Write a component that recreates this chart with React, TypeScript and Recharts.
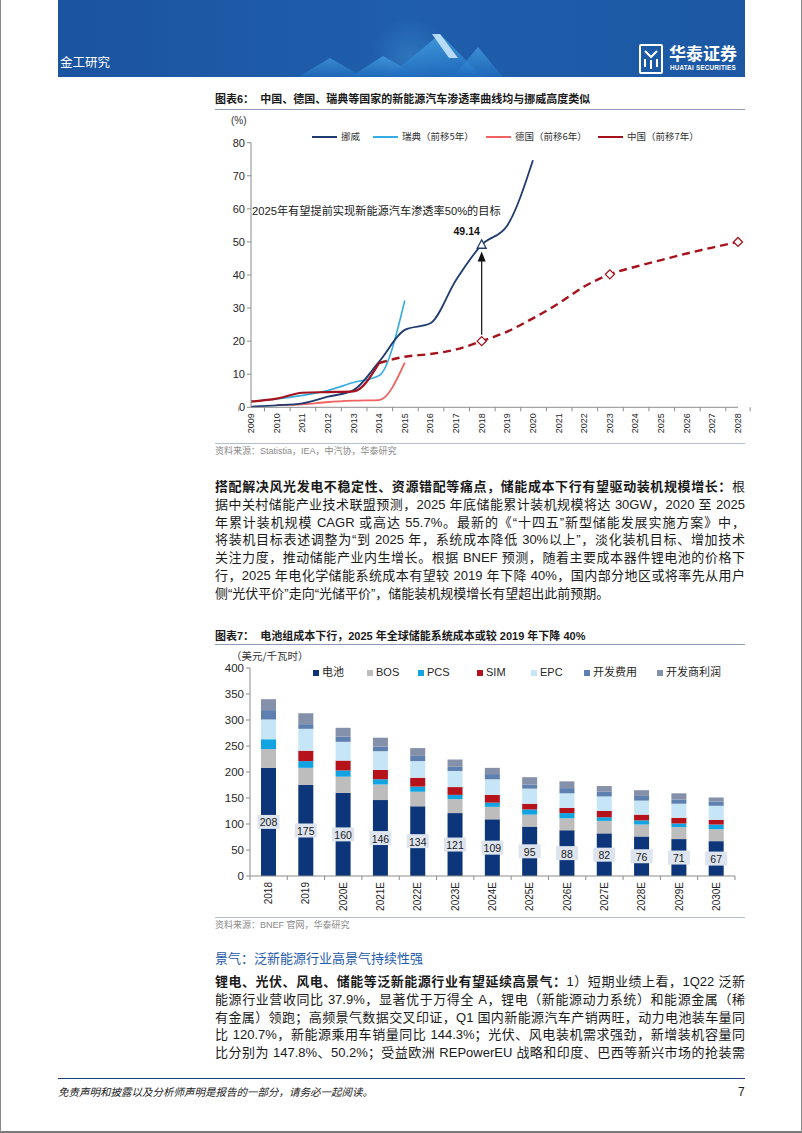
import React from "react";
import {
  Bar,
  BarChart,
  LabelList,
  Line,
  LineChart,
  ReferenceDot,
  ReferenceLine,
  XAxis,
  YAxis,
} from "recharts";

const FONT = '"Liberation Sans", Arial, "Noto Sans CJK SC", sans-serif';
const CJK = '"Noto Sans CJK SC", "Liberation Sans", sans-serif';
const axisGrey = "#8c8c8c";

// ---------- 图表6 ----------
const years = [
  "2009", "2010", "2011", "2012", "2013", "2014", "2015", "2016", "2017", "2018",
  "2019", "2020", "2021", "2022", "2023", "2024", "2025", "2026", "2027", "2028",
];
const norway = [0.2, 0.6, 1.2, 3.2, 5.2, 13.8, 23.4, 25.4, 38.5, 49.14, 55.0, 74.7, null, null, null, null, null, null, null, null];
const sweden = [1.8, 2.5, 3.6, 5.1, 7.5, 9.6, 32.3, null, null, null, null, null, null, null, null, null, null, null, null, null];
const germany = [null, 0.7, 0.9, 1.6, 2.0, 2.2, 13.5, null, null, null, null, null, null, null, null, null, null, null, null, null];
const chinaActual = [1.7, 2.6, 4.4, 4.6, 4.8, 13.4, null, null, null, null, null, null, null, null, null, null, null, null, null, null];
const chinaForecast = [null, null, null, null, null, 13.4, 15.3, 16.1, 17.5, 20.0, 22.9, 26.9, 31.4, 36.5, 40.2, 42.5, 44.5, 46.5, 48.3, 50.0];
const norwayMarked = ["2018"];
const chinaMarked = ["2018", "2023", "2028"];
const pctTicks = [0, 10, 20, 30, 40, 50, 60, 70, 80];

const lineSeries = [
  { key: "norway", name: "挪威", color: "#1f3b70" },
  { key: "sweden", name: "瑞典（前移5年）", color: "#35ace2" },
  { key: "germany", name: "德国（前移6年）", color: "#f0625f" },
  { key: "china", name: "中国（前移7年）", color: "#a6121c" },
];

const evData = years.map((year, i) => ({
  year,
  norway: norway[i],
  sweden: sweden[i],
  germany: germany[i],
  chinaActual: chinaActual[i],
  chinaForecast: chinaForecast[i],
}));

// ---------- 图表7 ----------
const costYears = ["2018", "2019", "2020E", "2021E", "2022E", "2023E", "2024E", "2025E", "2026E", "2027E", "2028E", "2029E", "2030E"];
const battery = [208, 175, 160, 146, 134, 121, 109, 95, 88, 82, 76, 71, 67];
const bos = [36, 33, 31, 30, 28, 27, 24, 23, 23, 24, 23, 23, 23];
const pcs = [19, 13, 12, 10, 10, 8, 8, 10, 10, 7, 8, 7, 9];
const sim = [0, 20, 19, 18, 17, 15, 15, 11, 10, 12, 11, 11, 9];
const epc = [38, 42, 36, 36, 32, 31, 30, 29, 28, 28, 27, 27, 27];
const devCost = [18, 9, 10, 9, 10, 8, 10, 8, 10, 9, 9, 8, 8];
const devProfit = [21, 21, 17, 17, 15, 14, 12, 14, 13, 11, 11, 12, 8];
const costTicks = [0, 50, 100, 150, 200, 250, 300, 350, 400];

const barSeries = [
  { key: "battery", name: "电池", color: "#0c3679" },
  { key: "bos", name: "BOS", color: "#bdbdbd" },
  { key: "pcs", name: "PCS", color: "#12a3e3" },
  { key: "sim", name: "SIM", color: "#b5121b" },
  { key: "epc", name: "EPC", color: "#c6e5f6" },
  { key: "devCost", name: "开发费用", color: "#5d80b0" },
  { key: "devProfit", name: "开发商利润", color: "#8590aa" },
];

const costData = costYears.map((year, i) => ({
  year,
  battery: battery[i],
  bos: bos[i],
  pcs: pcs[i],
  sim: sim[i],
  epc: epc[i],
  devCost: devCost[i],
  devProfit: devProfit[i],
}));

// layout
const C1 = { top: 120, h: 330, plotTop: 22.7, plotBottom: 287.3, left: 251, right: 738 };
const C1_BAND = (C1.right - C1.left) / years.length;
const C2 = { top: 640, h: 290, plotTop: 28, plotBottom: 236, left: 250, right: 735 };
const C2_BAND = (C2.right - C2.left) / costYears.length;

function makeTick(axisY: number, band: number, count: number, size: number) {
  return function Tick(props: any) {
    const { x, index, payload } = props;
    const ly = axisY + 6;
    return (
      <g>
        <line x1={x - band / 2} x2={x - band / 2} y1={axisY} y2={axisY + 4} stroke={axisGrey} />
        {index === count - 1 && (
          <line x1={x + band / 2} x2={x + band / 2} y1={axisY} y2={axisY + 4} stroke={axisGrey} />
        )}
        <text
          x={x}
          y={ly}
          transform={`rotate(-90 ${x} ${ly})`}
          textAnchor="end"
          dominantBaseline="central"
          fontSize={size}
          fill="#262626"
          fontFamily={FONT}
        >
          {payload.value}
        </text>
      </g>
    );
  };
}

const YearTick = makeTick(C1.plotBottom, C1_BAND, years.length, 9);
const CostTick = makeTick(C2.plotBottom, C2_BAND, costYears.length, 10);

function Txt({ x, y, size, children, style }: any) {
  const lh = size * 1.4;
  return (
    <div
      style={{
        position: "absolute",
        left: x,
        top: y - lh / 2,
        fontSize: size,
        lineHeight: `${lh}px`,
        whiteSpace: "nowrap",
        ...style,
      }}
    >
      {children}
    </div>
  );
}

function Para({ y, lines, lastLeft }: { y: number; lines: React.ReactNode[]; lastLeft?: boolean }) {
  const lh = 17.8;
  return (
    <>
      {lines.map((ln, i) => (
        <div
          key={i}
          style={{
            position: "absolute",
            left: 215,
            width: 530,
            top: y + i * lh - 9,
            height: 18,
            lineHeight: "18px",
            fontSize: 13,
            color: "#1a1a1a",
            textAlign: "justify",
            textAlignLast: lastLeft && i === lines.length - 1 ? "left" : "justify",
          }}
        >
          {ln}
        </div>
      ))}
    </>
  );
}

function BatteryLabel(props: any) {
  const { x, y, width, height, value } = props;
  const cx = x + width / 2;
  const cy = y + height / 2;
  return (
    <g>
      <rect x={cx - 11} y={cy - 7} width={22} height={14} fill="#dde4ee" />
      <text x={cx} y={cy + 0.5} textAnchor="middle" dominantBaseline="central" fontSize={10.5} fill="#1a1a1a" fontFamily={FONT}>
        {value}
      </text>
    </g>
  );
}

function Banner() {
  return (
    <div
      style={{
        position: "absolute",
        left: 58,
        top: 0,
        width: 687,
        height: 77,
        background: "linear-gradient(90deg, #1b54a0 0%, #1f5eab 50%, #1c58a4 100%)",
        overflow: "hidden",
      }}
    >
      <svg width={687} height={77} style={{ position: "absolute", left: 0, top: 0 }}>
        <defs>
          <linearGradient id="mt" x1="0" y1="0" x2="0" y2="1">
            <stop offset="0" stopColor="#49a9e8" />
            <stop offset="1" stopColor="#1f6cc0" />
          </linearGradient>
          <radialGradient id="glow" cx="0.5" cy="0.5" r="0.5">
            <stop offset="0" stopColor="#4aa0e0" stopOpacity={0.35} />
            <stop offset="1" stopColor="#4aa0e0" stopOpacity={0} />
          </radialGradient>
        </defs>
        <circle cx={352} cy={56} r={38} fill="url(#glow)" />
        <polygon points="240,77 272,58 305,77" fill="url(#mt)" opacity={0.6} />
        <polygon points="292,77 325,56 362,77" fill="url(#mt)" opacity={0.7} />
        <polygon points="330,77 382,34 425,77" fill="url(#mt)" opacity={0.75} />
        <polygon points="374,34 382,34 400,58 391,58" fill="#cfeaff" opacity={0.85} />
        <polygon points="395,77 420,47 445,77" fill="url(#mt)" opacity={0.65} />
        <g transform="translate(582,45)" fill="none" stroke="#fff" strokeWidth={2}>
          <rect x={0} y={0} width={22} height={28} rx={1} />
          <path d="M5,6 L11,12 L17,6" />
          <path d="M5,22 L5,14 M11,24 L11,15 M17,22 L17,14" />
        </g>
      </svg>
      <Txt x={2} y={62} size={12.5} style={{ color: "#fff", fontFamily: CJK }}>
        金工研究
      </Txt>
      <Txt x={611} y={53} size={17} style={{ color: "#fff", fontFamily: CJK, fontWeight: 700 }}>
        华泰证券
      </Txt>
      <Txt x={612} y={68} size={6.3} style={{ color: "#fff", fontWeight: 700, letterSpacing: 0.2 }}>
        HUATAI SECURITIES
      </Txt>
    </div>
  );
}

const legend1X = [312, 373, 486, 598];
const legend2X = [313, 367, 418, 477, 531, 584, 657];

export default function App() {
  return (
    <div
      style={{
        position: "absolute",
        left: 0,
        top: 0,
        width: 802,
        height: 1133,
        background: "#fff",
        fontFamily: FONT,
        color: "#1a1a1a",
        overflow: "hidden",
      }}
    >
      <Banner />

      {/* 图表6 */}
      <Txt x={215} y={100} size={11} style={{ fontWeight: 700 }}>
        图表6：&nbsp;&nbsp;中国、德国、瑞典等国家的新能源汽车渗透率曲线均与挪威高度类似
      </Txt>
      <div style={{ position: "absolute", left: 215, top: 108.5, width: 530, height: 1.5, background: "#8d9db5" }} />
      <Txt x={231} y={121} size={10} style={{ color: "#333" }}>
        (%)
      </Txt>
      {lineSeries.map((s, i) => (
        <React.Fragment key={s.key}>
          <div style={{ position: "absolute", left: legend1X[i], top: 136, width: 25, height: 2, background: s.color }} />
          <Txt x={legend1X[i] + 29} y={137} size={9.5} style={{ color: "#333", fontFamily: CJK }}>
            {s.name}
          </Txt>
        </React.Fragment>
      ))}
      <div style={{ position: "absolute", left: 0, top: C1.top }}>
        <LineChart
          width={802}
          height={C1.h}
          data={evData}
          margin={{ top: C1.plotTop, right: 802 - C1.right, bottom: C1.h - C1.plotBottom - 30, left: 0 }}
        >
          <XAxis
            dataKey="year"
            interval={0}
            height={30}
            tick={<YearTick />}
            tickLine={false}
            axisLine={{ stroke: axisGrey }}
          />
          <YAxis
            domain={[0, 80]}
            ticks={pctTicks}
            width={C1.left}
            tickSize={4}
            tickLine={{ stroke: axisGrey }}
            axisLine={{ stroke: axisGrey }}
            tick={{ fontSize: 11, fill: "#262626", fontFamily: FONT }}
          />
          <Line type="monotone" dataKey="germany" stroke="#f0625f" strokeWidth={1.8} dot={false} isAnimationActive={false} />
          <Line type="monotone" dataKey="sweden" stroke="#35ace2" strokeWidth={1.6} dot={false} isAnimationActive={false} />
          <Line
            type="monotone"
            dataKey="norway"
            stroke="#1f3b70"
            strokeWidth={1.8}
            isAnimationActive={false}
            dot={(p: any) =>
              norwayMarked.includes(p.payload.year) && p.cy != null ? (
                <g key={`n${p.index}`}>
                  <path
                    d={`M${p.cx},${p.cy - 5} L${p.cx - 4.5},${p.cy + 3.5} L${p.cx + 4.5},${p.cy + 3.5} Z`}
                    fill="#fff"
                    stroke="#1f3b70"
                    strokeWidth={1.3}
                  />
                  <text x={p.cx - 15} y={p.cy - 10} textAnchor="middle" fontSize={10.5} fontWeight={700} fill="#111" fontFamily={FONT}>
                    {p.value}
                  </text>
                </g>
              ) : (
                <g key={`n${p.index}`} />
              )
            }
          />
          <Line type="monotone" dataKey="chinaActual" stroke="#a6121c" strokeWidth={2.2} dot={false} isAnimationActive={false} />
          <Line
            type="monotone"
            dataKey="chinaForecast"
            stroke="#a6121c"
            strokeWidth={2.4}
            strokeDasharray="8 5"
            isAnimationActive={false}
            dot={(p: any) =>
              chinaMarked.includes(p.payload.year) && p.cy != null ? (
                <path
                  key={`c${p.index}`}
                  d={`M${p.cx},${p.cy - 4.5} L${p.cx + 4.5},${p.cy} L${p.cx},${p.cy + 4.5} L${p.cx - 4.5},${p.cy} Z`}
                  fill="#fff"
                  stroke="#a6121c"
                  strokeWidth={1.3}
                />
              ) : (
                <g key={`c${p.index}`} />
              )
            }
          />
          <ReferenceLine
            segment={[
              { x: "2018", y: 21.9 },
              { x: "2018", y: 44.5 },
            ]}
            stroke="#111"
            strokeWidth={1.2}
          />
          <ReferenceDot
            x="2018"
            y={47.1}
            r={0}
            shape={(p: any) => (
              <path d={`M${p.cx},${p.cy} L${p.cx - 4},${p.cy + 10} L${p.cx + 4},${p.cy + 10} Z`} fill="#111" />
            )}
          />
          <ReferenceDot
            x="2009"
            y={59.4}
            r={0}
            shape={(p: any) => (
              <text x={p.cx + 1} y={p.cy} dominantBaseline="central" fontSize={11.2} fill="#1a1a1a" fontFamily={FONT}>
                2025年有望提前实现新能源汽车渗透率50%的目标
              </text>
            )}
          />
        </LineChart>
      </div>
      <div style={{ position: "absolute", left: 215, top: 442.5, width: 530, height: 1.2, background: "#b3bfce" }} />
      <Txt x={215} y={451} size={9} style={{ color: "#8a8a8a" }}>
        资料来源：Statistia，IEA，中汽协，华泰研究
      </Txt>

      <Para
        y={487}
        lastLeft
        lines={[
          <>
            <b>搭配解决风光发电不稳定性、资源错配等痛点，储能成本下行有望驱动装机规模增长：</b>根
          </>,
          "据中关村储能产业技术联盟预测，2025 年底储能累计装机规模将达 30GW，2020 至 2025",
          "年累计装机规模 CAGR 或高达 55.7%。最新的《“十四五”新型储能发展实施方案》中，",
          "将装机目标表述调整为“到 2025 年，系统成本降低 30%以上”，淡化装机目标、增加技术",
          "关注力度，推动储能产业内生增长。根据 BNEF 预测，随着主要成本器件锂电池的价格下",
          "行，2025 年电化学储能系统成本有望较 2019 年下降 40%，国内部分地区或将率先从用户",
          "侧“光伏平价”走向“光储平价”，储能装机规模增长有望超出此前预期。",
        ]}
      />

      {/* 图表7 */}
      <Txt x={215} y={637} size={11} style={{ fontWeight: 700 }}>
        图表7：&nbsp;&nbsp;电池组成本下行，2025 年全球储能系统成本或较 2019 年下降 40%
      </Txt>
      <div style={{ position: "absolute", left: 215, top: 643.5, width: 530, height: 1.5, background: "#8d9db5" }} />
      <Txt x={231} y={656} size={10.5} style={{ color: "#333", fontFamily: CJK }}>
        （美元/千瓦时）
      </Txt>
      {barSeries.map((s, i) => (
        <React.Fragment key={s.key}>
          <div style={{ position: "absolute", left: legend2X[i], top: 670, width: 6, height: 6, background: s.color }} />
          <Txt x={legend2X[i] + 9} y={673} size={11} style={{ color: "#262626" }}>
            {s.name}
          </Txt>
        </React.Fragment>
      ))}
      <div style={{ position: "absolute", left: 0, top: C2.top }}>
        <BarChart
          width={802}
          height={C2.h}
          data={costData}
          margin={{ top: C2.plotTop, right: 802 - C2.right, bottom: C2.h - C2.plotBottom - 40, left: 0 }}
        >
          <XAxis
            dataKey="year"
            interval={0}
            height={40}
            tick={<CostTick />}
            tickLine={false}
            axisLine={{ stroke: axisGrey }}
          />
          <YAxis
            domain={[0, 400]}
            ticks={costTicks}
            width={C2.left}
            tickSize={4}
            tickLine={{ stroke: axisGrey }}
            axisLine={{ stroke: axisGrey }}
            tick={{ fontSize: 11.5, fill: "#262626", fontFamily: FONT }}
          />
          {barSeries.map((s) => (
            <Bar key={s.key} dataKey={s.key} stackId="cost" fill={s.color} barSize={15} isAnimationActive={false}>
              {s.key === "battery" && <LabelList dataKey="battery" content={<BatteryLabel />} />}
            </Bar>
          ))}
        </BarChart>
      </div>
      <div style={{ position: "absolute", left: 215, top: 916.5, width: 530, height: 1.2, background: "#b3bfce" }} />
      <Txt x={215} y={925} size={9} style={{ color: "#8a8a8a" }}>
        资料来源：BNEF 官网，华泰研究
      </Txt>

      <Txt x={215} y={958} size={13} style={{ color: "#1f5bab", fontFamily: CJK }}>
        景气：泛新能源行业高景气持续性强
      </Txt>
      <Para
        y={982}
        lines={[
          <>
            <b>锂电、光伏、风电、储能等泛新能源行业有望延续高景气：</b>1）短期业绩上看，1Q22 泛新
          </>,
          "能源行业营收同比 37.9%，显著优于万得全 A，锂电（新能源动力系统）和能源金属（稀",
          "有金属）领跑；高频景气数据交叉印证，Q1 国内新能源汽车产销两旺，动力电池装车量同",
          "比 120.7%，新能源乘用车销量同比 144.3%；光伏、风电装机需求强劲，新增装机容量同",
          "比分别为 147.8%、50.2%；受益欧洲 REPowerEU 战略和印度、巴西等新兴市场的抢装需",
        ]}
      />

      {/* footer */}
      <div style={{ position: "absolute", left: 58, top: 1077.5, width: 687, height: 1.6, background: "#203f78" }} />
      <Txt x={58} y={1092} size={10.5} style={{ fontStyle: "italic", color: "#1a1a1a", fontFamily: CJK }}>
        免责声明和披露以及分析师声明是报告的一部分，请务必一起阅读。
      </Txt>
      <Txt x={738} y={1092} size={12} style={{ color: "#1a1a1a" }}>
        7
      </Txt>

      <div
        style={{
          position: "absolute",
          left: 0,
          top: 0,
          width: 802,
          height: 1133,
          boxSizing: "border-box",
          borderLeft: "1px solid #8a8a8a",
          borderRight: "1px solid #8a8a8a",
          borderBottom: "2px solid #7a7a7a",
          pointerEvents: "none",
        }}
      />
    </div>
  );
}
